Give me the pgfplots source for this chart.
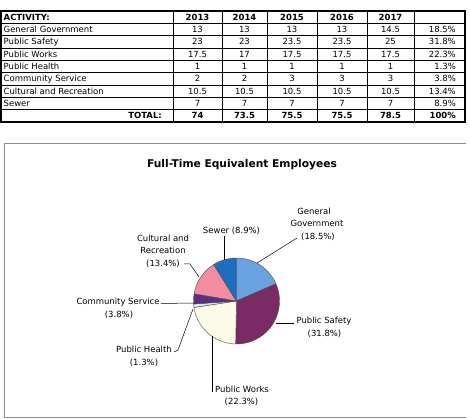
\documentclass[border=0pt]{standalone}
\usepackage{fontspec}
\setmainfont{DejaVu Sans}
\usepackage{pgfplots}
\pgfplotsset{compat=1.18}

% 2017 FTE values (pie)
\def\vGG{14.5}\def\vPS{25}\def\vPW{17.5}\def\vPH{1}\def\vCS{3}\def\vCR{10.5}\def\vSW{7}
\pgfmathsetmacro\tot{\vGG+\vPS+\vPW+\vPH+\vCS+\vCR+\vSW}
\pgfmathsetmacro\aA{90}
\pgfmathsetmacro\aB{\aA-360*\vGG/\tot}
\pgfmathsetmacro\aC{\aB-360*\vPS/\tot}
\pgfmathsetmacro\aD{\aC-360*\vPW/\tot}
\pgfmathsetmacro\aE{\aD-360*\vPH/\tot}
\pgfmathsetmacro\aF{\aE-360*\vCS/\tot}
\pgfmathsetmacro\aG{\aF-360*\vCR/\tot}
\pgfmathsetmacro\aH{\aG-360*\vSW/\tot}
\def\cx{236.5}\def\cy{301}\def\rr{43}

\definecolor{cGG}{RGB}{104,162,224}
\definecolor{cPS}{RGB}{122,42,100}
\definecolor{cPW}{RGB}{250,250,230}
\definecolor{cPH}{RGB}{212,236,240}
\definecolor{cCS}{RGB}{92,46,134}
\definecolor{cCR}{RGB}{242,140,160}
\definecolor{cSW}{RGB}{30,110,192}

\newcommand\lbl[3]{\node[anchor=base,inner sep=0] at (#1,#2+3.1) {#3};}
\newcommand\trow[8]{%
  \pgfmathsetmacro\ry{11+12.333*(#1+0.5)+3.1}%
  \node[anchor=base west,inner sep=0] at (3.5,\ry) {#2};
  \node[anchor=base,inner sep=0] at (197.5,\ry) {#3};
  \node[anchor=base,inner sep=0] at (244.5,\ry) {#4};
  \node[anchor=base,inner sep=0] at (292,\ry) {#5};
  \node[anchor=base,inner sep=0] at (342,\ry) {#6};
  \node[anchor=base,inner sep=0] at (390.5,\ry) {#7};
  \node[anchor=base east,inner sep=0] at (456,\ry) {#8};
}

\begin{document}
\begin{tikzpicture}
\useasboundingbox (0,0) rectangle (470bp,419bp);
\begin{axis}[at={(0,0)},anchor=south west,width=470bp,height=419bp,scale only axis,
  xmin=0,xmax=470,ymin=0,ymax=419,y dir=reverse,hide axis,clip=false]
\addplot[fill=cGG,draw=black!70,line width=0.4pt,domain=\aB:\aA,samples=40,variable=\t] ({\cx+\rr*cos(\t)},{\cy-\rr*sin(\t)}) -- (\cx,\cy) -- cycle;
\addplot[fill=cPS,draw=black!70,line width=0.4pt,domain=\aC:\aB,samples=60,variable=\t] ({\cx+\rr*cos(\t)},{\cy-\rr*sin(\t)}) -- (\cx,\cy) -- cycle;
\addplot[fill=cPW,draw=black!70,line width=0.4pt,domain=\aD:\aC,samples=50,variable=\t] ({\cx+\rr*cos(\t)},{\cy-\rr*sin(\t)}) -- (\cx,\cy) -- cycle;
\addplot[fill=cPH,draw=black!70,line width=0.4pt,domain=\aE:\aD,samples=8,variable=\t] ({\cx+\rr*cos(\t)},{\cy-\rr*sin(\t)}) -- (\cx,\cy) -- cycle;
\addplot[fill=cCS,draw=black!70,line width=0.4pt,domain=\aF:\aE,samples=12,variable=\t] ({\cx+\rr*cos(\t)},{\cy-\rr*sin(\t)}) -- (\cx,\cy) -- cycle;
\addplot[fill=cCR,draw=black!70,line width=0.4pt,domain=\aG:\aF,samples=30,variable=\t] ({\cx+\rr*cos(\t)},{\cy-\rr*sin(\t)}) -- (\cx,\cy) -- cycle;
\addplot[fill=cSW,draw=black!70,line width=0.4pt,domain=\aH:\aG,samples=24,variable=\t] ({\cx+\rr*cos(\t)},{\cy-\rr*sin(\t)}) -- (\cx,\cy) -- cycle;
\end{axis}
\begin{scope}[x=1bp,y=-1bp,shift={(0,419bp)}]
  % ---------- table ----------
  \begin{scope}[font=\fontsize{8.5}{10}\selectfont]
  \foreach \k in {1,...,8} \draw[line width=0.8bp] (1,{11+12.333*\k}) -- (465,{11+12.333*\k});
  \foreach \xx in {173,222,267,317,367,414} \draw[line width=0.8bp] (\xx,11) -- (\xx,122);
  \draw[line width=1.2bp] (1,11) rectangle (465,122);
  \pgfmathsetmacro\ry{11+12.333*0.5+3.1}
  \node[anchor=base west,inner sep=0,font=\fontsize{8.5}{10}\bfseries] at (3.5,\ry) {ACTIVITY:};
  \node[anchor=base,inner sep=0,font=\fontsize{8.5}{10}\bfseries] at (197.5,\ry) {2013};
  \node[anchor=base,inner sep=0,font=\fontsize{8.5}{10}\bfseries] at (244.5,\ry) {2014};
  \node[anchor=base,inner sep=0,font=\fontsize{8.5}{10}\bfseries] at (292,\ry) {2015};
  \node[anchor=base,inner sep=0,font=\fontsize{8.5}{10}\bfseries] at (342,\ry) {2016};
  \node[anchor=base,inner sep=0,font=\fontsize{8.5}{10}\bfseries] at (390.5,\ry) {2017};
  \trow{1}{General Government}{13}{13}{13}{13}{14.5}{18.5\%}
  \trow{2}{Public Safety}{23}{23}{23.5}{23.5}{25}{31.8\%}
  \trow{3}{Public Works}{17.5}{17}{17.5}{17.5}{17.5}{22.3\%}
  \trow{4}{Public Health}{1}{1}{1}{1}{1}{1.3\%}
  \trow{5}{Community Service}{2}{2}{3}{3}{3}{3.8\%}
  \trow{6}{Cultural and Recreation}{10.5}{10.5}{10.5}{10.5}{10.5}{13.4\%}
  \trow{7}{Sewer}{7}{7}{7}{7}{7}{8.9\%}
  \pgfmathsetmacro\ry{11+12.333*8.5+3.1}
  \begin{scope}[font=\fontsize{8.5}{10}\bfseries]
  \node[anchor=base east,inner sep=0] at (162,\ry) {TOTAL:};
  \node[anchor=base,inner sep=0] at (197.5,\ry) {74};
  \node[anchor=base,inner sep=0] at (244.5,\ry) {73.5};
  \node[anchor=base,inner sep=0] at (292,\ry) {75.5};
  \node[anchor=base,inner sep=0] at (342,\ry) {75.5};
  \node[anchor=base,inner sep=0] at (390.5,\ry) {78.5};
  \node[anchor=base east,inner sep=0] at (456,\ry) {100\%};
  \end{scope}
  \end{scope}
  % ---------- chart frame ----------
  \draw[black!45,line width=0.8bp] (466,143) -- (4,143) -- (4,417) -- (466,417);
  % ---------- title ----------
  \node[anchor=base,inner sep=0,font=\fontsize{10.7}{12}\bfseries] at (242,168) {Full-Time Equivalent Employees};
  % ---------- labels ----------
  \begin{scope}[font=\fontsize{8.5}{10}\selectfont]
  \lbl{314}{211}{General}
  \lbl{317}{223.5}{Government}
  \lbl{318}{236}{(18.5\%)}
  \draw[line width=0.5bp] (297,238) -- (257,263);
  \lbl{231.5}{230}{Sewer (8.9\%)}
  \draw[line width=0.5bp] (224.3,236) -- (224.3,260);
  \lbl{163}{238}{Cultural and}
  \lbl{163}{250.5}{Recreation}
  \lbl{163}{263}{(13.4\%)}
  \draw[line width=0.5bp] (184,264) -- (190,264) -- (199,277);
  \lbl{118}{301.5}{Community Service}
  \lbl{119}{314}{(3.8\%)}
  \draw[line width=0.5bp] (161,303.5) -- (194,303);
  \lbl{144}{349.5}{Public Health}
  \lbl{144}{362}{(1.3\%)}
  \draw[line width=0.5bp] (174,352) -- (178,350) -- (193,309);
  \lbl{242}{389}{Public Works}
  \lbl{241.5}{401}{(22.3\%)}
  \draw[line width=0.5bp] (212.3,336) -- (212.3,392);
  \lbl{324}{320}{Public Safety}
  \lbl{324.5}{333}{(31.8\%)}
  \draw[line width=0.5bp] (276,323) -- (294,323);
  \end{scope}
\end{scope}
\end{tikzpicture}
\end{document}
